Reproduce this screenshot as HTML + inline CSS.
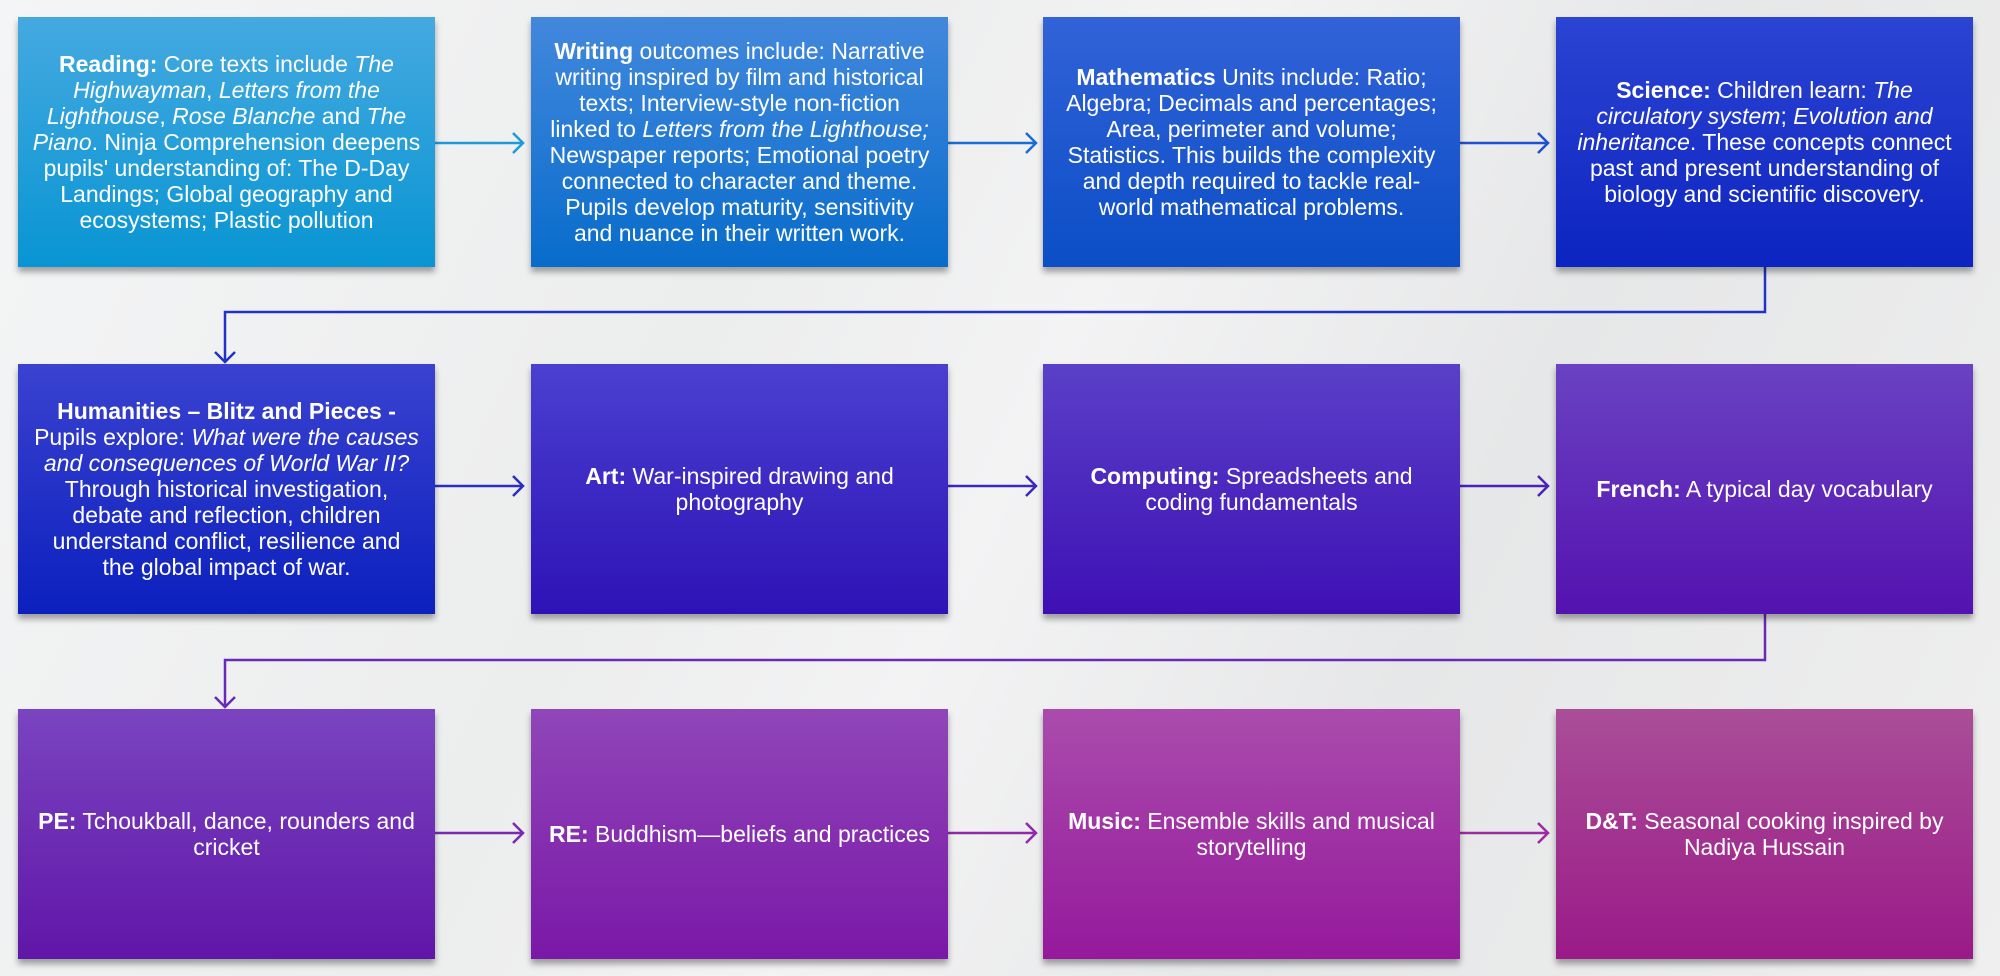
<!DOCTYPE html>
<html><head><meta charset="utf-8"><style>
body{margin:0;width:2000px;height:976px;overflow:hidden;background:linear-gradient(115deg,#f4f5f6 0%,#eceded 35%,#f3f3f4 50%,#e6e7e8 70%,#efefef 100%);font-family:"Liberation Sans Narrow","Liberation Sans",sans-serif;position:relative}
.b{position:absolute;width:417px;height:250px;display:flex;align-items:center;justify-content:center;text-align:center;color:#fff;font-size:23px;line-height:26px;box-shadow:0 5px 6px rgba(0,0,0,.35);box-sizing:border-box;padding:0 4px;white-space:nowrap}
svg{position:absolute;left:0;top:0}
</style></head><body>
<svg width="2000" height="976">
<g fill="none" stroke-width="2.5">
<path d="M435 143H523M513 133l10 10-10 10" stroke="#1e9ad8"/>
<path d="M948 143H1036M1026 133l10 10-10 10" stroke="#1a6cd2"/>
<path d="M1460 143H1548M1538 133l10 10-10 10" stroke="#2050cc"/>
<path d="M1765 267V312H225V362M215 352l10 10 10-10" stroke="#2033c4"/>
<path d="M435 486H523M513 476l10 10-10 10" stroke="#2a2ec4"/>
<path d="M948 486H1036M1026 476l10 10-10 10" stroke="#3a28c0"/>
<path d="M1460 486H1548M1538 476l10 10-10 10" stroke="#4a22b8"/>
<path d="M1765 614V660H225V707M215 697l10 10 10-10" stroke="#6a2ab8"/>
<path d="M435 833H523M513 823l10 10-10 10" stroke="#7a2ab0"/>
<path d="M948 833H1036M1026 823l10 10-10 10" stroke="#8f2ba8"/>
<path d="M1460 833H1548M1538 823l10 10-10 10" stroke="#9a2ba0"/>
</g></svg>
<div class="b" style="left:18px;top:17px;background:linear-gradient(#45a9e0,#0895d3)"><div><b>Reading:</b> Core texts include <i>The<br>Highwayman</i>, <i>Letters from the<br>Lighthouse</i>, <i>Rose Blanche</i> and <i>The<br>Piano</i>. Ninja Comprehension deepens<br>pupils' understanding of: The D-Day<br>Landings; Global geography and<br>ecosystems; Plastic pollution</div></div>
<div class="b" style="left:531px;top:17px;background:linear-gradient(#4288dd,#086ccb)"><div><b>Writing</b> outcomes include: Narrative<br>writing inspired by film and historical<br>texts; Interview-style non-fiction<br>linked to <i>Letters from the Lighthouse;</i><br>Newspaper reports; Emotional poetry<br>connected to character and theme.<br>Pupils develop maturity, sensitivity<br>and nuance in their written work.</div></div>
<div class="b" style="left:1043px;top:17px;background:linear-gradient(#3262d8,#0b4ec6)"><div><b>Mathematics</b> Units include: Ratio;<br>Algebra; Decimals and percentages;<br>Area, perimeter and volume;<br>Statistics. This builds the complexity<br>and depth required to tackle real-<br>world mathematical problems.</div></div>
<div class="b" style="left:1556px;top:17px;background:linear-gradient(#2c44d2,#0c24c0)"><div><b>Science:</b> Children learn: <i>The<br>circulatory system</i>; <i>Evolution and<br>inheritance</i>. These concepts connect<br>past and present understanding of<br>biology and scientific discovery.</div></div>
<div class="b" style="left:18px;top:364px;background:linear-gradient(#3a42d0,#0c20be)"><div><b>Humanities – Blitz and Pieces -</b><br>Pupils explore: <i>What were the causes<br>and consequences of World War II?</i><br>Through historical investigation,<br>debate and reflection, children<br>understand conflict, resilience and<br>the global impact of war.</div></div>
<div class="b" style="left:531px;top:364px;background:linear-gradient(#4a40d0,#2e12b6)"><div><b>Art:</b> War-inspired drawing and<br>photography</div></div>
<div class="b" style="left:1043px;top:364px;background:linear-gradient(#5a40c8,#3e10b4)"><div><b>Computing:</b> Spreadsheets and<br>coding fundamentals</div></div>
<div class="b" style="left:1556px;top:364px;background:linear-gradient(#6a42c2,#5412b0)"><div><b>French:</b> A typical day vocabulary</div></div>
<div class="b" style="left:18px;top:709px;background:linear-gradient(#7a44c0,#6016a8)"><div><b>PE:</b> Tchoukball, dance, rounders and<br>cricket</div></div>
<div class="b" style="left:531px;top:709px;background:linear-gradient(#9046b8,#7a18a8)"><div><b>RE:</b> Buddhism—beliefs and practices</div></div>
<div class="b" style="left:1043px;top:709px;background:linear-gradient(#aa4cac,#95199c)"><div><b>Music:</b> Ensemble skills and musical<br>storytelling</div></div>
<div class="b" style="left:1556px;top:709px;background:linear-gradient(#aa4e98,#9a1a88)"><div><b>D&amp;T:</b> Seasonal cooking inspired by<br>Nadiya Hussain</div></div>
</body></html>
